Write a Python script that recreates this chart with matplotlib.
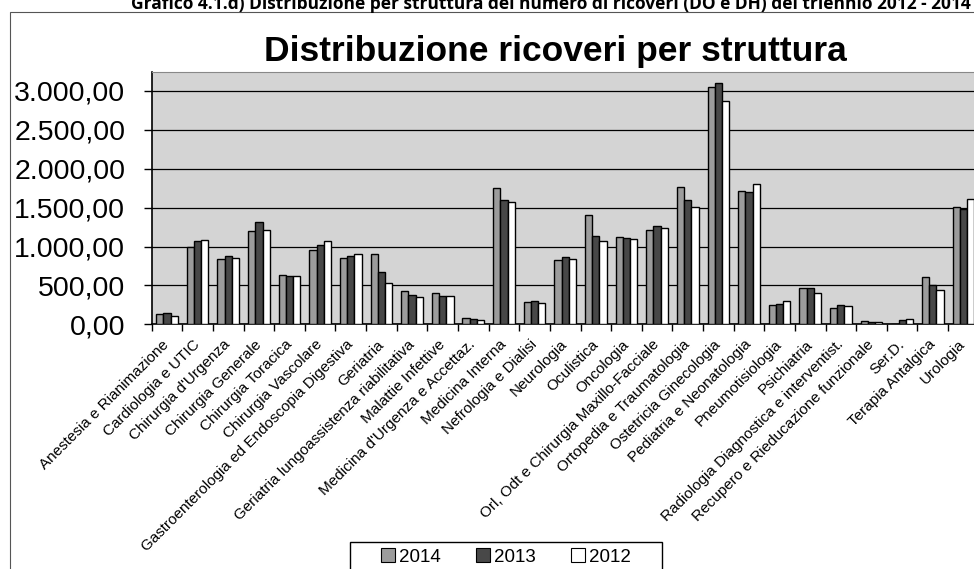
import matplotlib
matplotlib.use("Agg")
import matplotlib.pyplot as plt
import numpy as np
from matplotlib.patches import Rectangle, Patch

categories = [
    "Anestesia e Rianimazione", "Cardiologia e UTIC", "Chirurgia d'Urgenza",
    "Chirurgia Generale", "Chirurgia Toracica", "Chirurgia Vascolare",
    "Gastroenterologia ed Endoscopia Digestiva", "Geriatria",
    "Geriatria lungoassistenza riabilitativa", "Malattie Infettive",
    "Medicina d'Urgenza e Accettaz.", "Medicina Interna", "Nefrologia e Dialisi",
    "Neurologia", "Oculistica", "Oncologia",
    "Orl, Odt e Chirurgia Maxillo-Facciale", "Ortopedia e Traumatologia",
    "Ostetricia Ginecologia", "Pediatria e Neonatologia", "Pneumotisiologia",
    "Psichiatria", "Radiologia Diagnostica e interventist.",
    "Recupero e Rieducazione funzionale", "Ser.D.", "Terapia Antalgica", "Urologia",
]
v2014 = [135, 990, 837, 1197, 635, 961, 850, 901, 433, 399, 86, 1750, 292, 828,
         1407, 1128, 1214, 1763, 3050, 1712, 249, 468, 215, 47, 0, 605, 1514]
v2013 = [148, 1068, 884, 1321, 622, 1017, 884, 669, 382, 369, 73, 1592, 300, 862,
         1141, 1107, 1266, 1600, 3102, 1695, 262, 468, 249, 35, 56, 506, 1480]
v2012 = [107, 1088, 850, 1218, 622, 1077, 901, 536, 347, 369, 60, 1574, 270, 837,
         1068, 1094, 1240, 1514, 2870, 1806, 300, 399, 236, 35, 73, 442, 1609]
series_labels = ["2014", "2013", "2012"]
yticks = [0, 500, 1000, 1500, 2000, 2500, 3000]

W, H = 974, 569
fig = plt.figure(figsize=(W / 100, H / 100), dpi=100)
fig.patch.set_facecolor("white")
plt.rcParams['font.family'] = ['Liberation Sans', 'DejaVu Sans']

# outer chart frame
fig.patches.append(Rectangle((10 / W, -0.1), 1.2, 1 - 12 / H + 0.1, transform=fig.transFigure,
                             fill=False, edgecolor="#555555", linewidth=0.8))

# caption cut off at the top
fig.text(551 / W, 1 - 9 / H, "Grafico 4.1.d) Distribuzione per struttura del numero di ricoveri (DO e DH) del triennio 2012 - 2014",
         ha="center", va="baseline", fontsize=12.5, fontweight="bold", family=["Open Sans", "DejaVu Sans"])

left, right_px, top_px, bottom_px = 151.7, 978.7, 71.7, 324.3
ax = fig.add_axes([left / W, 1 - bottom_px / H, (right_px - left) / W, (bottom_px - top_px) / H])
ax.set_facecolor("#d4d4d4")

x = np.arange(len(categories))
bw = 0.236
colors = ["#9c9c9c", "#484848", "#ffffff"]
for i, (vals, c, lab) in enumerate(zip([v2014, v2013, v2012], colors, series_labels)):
    ax.bar(x + (i - 1) * bw, vals, width=bw, color=c, edgecolor="black", linewidth=1.0,
           label=lab, zorder=3)

ymax = (bottom_px - top_px) / ((bottom_px - 91.0) / 3000)
ax.set_ylim(0, ymax)
ax.set_xlim(-0.5, len(categories) - 0.5)
ax.set_yticks(yticks)
ax.set_yticklabels([f"{v:,.2f}".replace(",", "X").replace(".", ",").replace("X", ".") for v in yticks],
                   fontsize=20.5)
ax.yaxis.grid(True, color="black", linewidth=0.9, zorder=1)
ax.set_axisbelow(True)
ax.tick_params(axis="y", length=6, width=1, pad=13, direction="out")

ax.set_xticks(np.arange(len(categories) + 1) - 0.5, minor=False)
ax.set_xticklabels([])
ax.tick_params(axis="x", which="major", length=5, width=1, direction="out")
ax.set_xticks(x, minor=True)
ax.set_xticklabels(categories, minor=True, rotation=45, ha="right", va="center",
                   rotation_mode="anchor", fontsize=11)
ax.tick_params(axis="x", which="minor", length=0, pad=13)

for s in ["left", "bottom"]:
    ax.spines[s].set_color("black")
    ax.spines[s].set_linewidth(1.2)
ax.spines["top"].set_color("#888888")
ax.spines["top"].set_linewidth(0.8)
ax.spines["right"].set_visible(False)

fig.text(555 / W, 1 - 61 / H, "Distribuzione ricoveri per struttura", ha="center", va="baseline",
         fontsize=25.5, fontweight="bold")

# legend
fig.patches.append(Rectangle((350 / W, -0.05), 312 / W, 0.05 + 1 - 542 / H, transform=fig.transFigure,
                             fill=False, edgecolor="black", linewidth=1.0))
handles = [Patch(facecolor=c, edgecolor="black", linewidth=0.8) for c in colors]
leg = fig.legend(handles, series_labels, loc="upper center", bbox_to_anchor=(506 / W, 1 - 536 / H),
                 ncol=3, frameon=False, fontsize=13.5, handlelength=0.75, handleheight=0.75,
                 handletextpad=0.2, columnspacing=1.9, borderpad=0.15)

fig.savefig("out.png", dpi=100, facecolor="white")
